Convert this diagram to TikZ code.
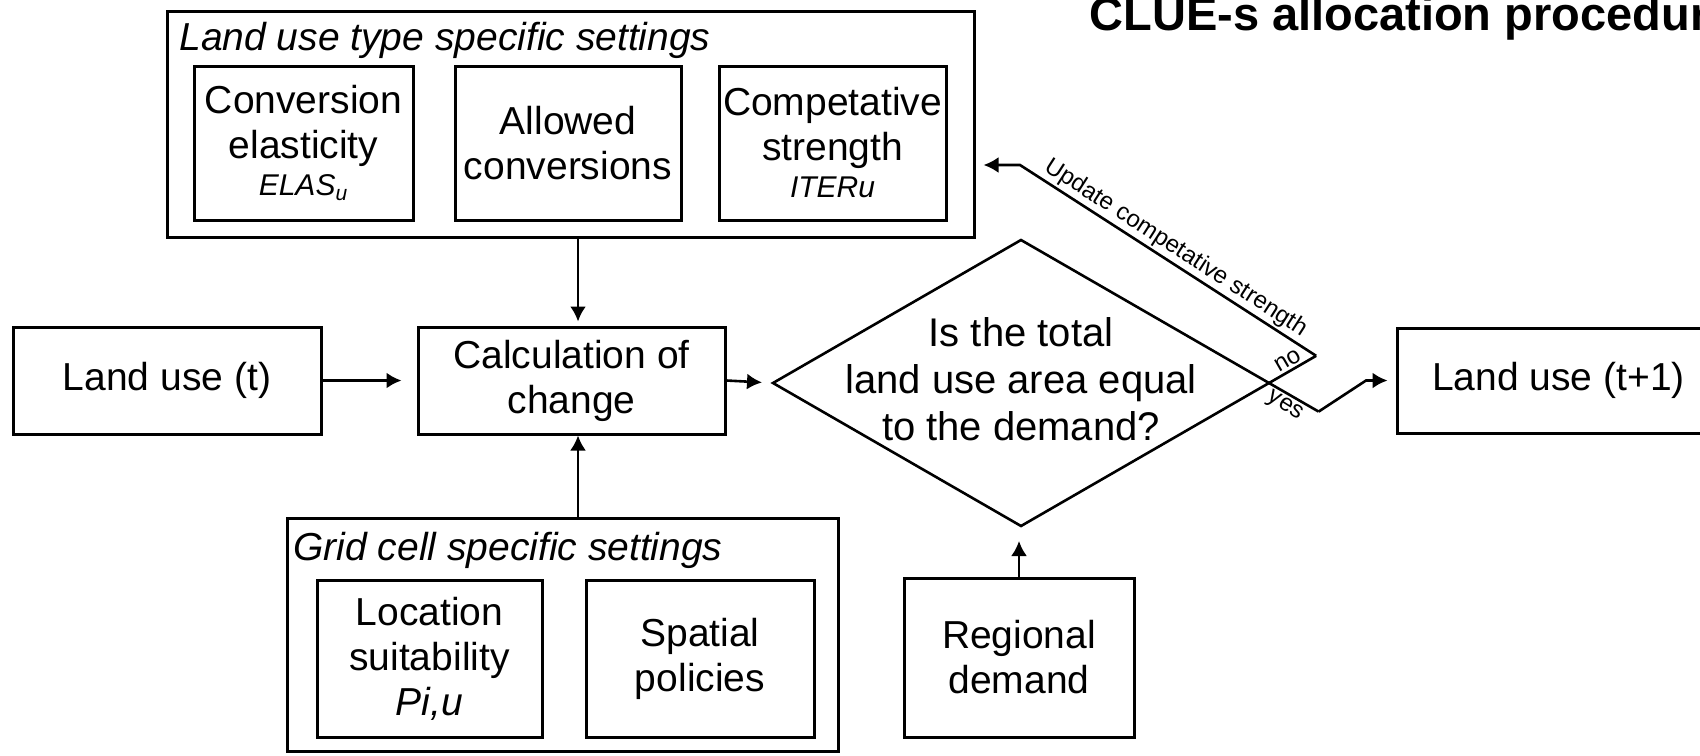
\documentclass[tikz,border=0pt]{standalone}
\usepackage{fontspec}
\setmainfont{Liberation Sans}
\usetikzlibrary{arrows.meta,calc,shapes.geometric}
\newcommand\mainfs{\fontsize{19.5}{22.5}\selectfont}
\newcommand\smallit{\fontsize{15}{17}\selectfont\itshape}
\begin{document}
\begin{tikzpicture}[x=0.5pt,y=-0.5pt,
  box/.style={draw, line width=1.5pt, inner sep=0pt, align=center, font=\mainfs},
  arr/.style={line width=1.3pt, -{Latex[length=7.5pt,width=8pt]}},
  ttl/.style={anchor=base west, inner sep=0pt, font=\mainfs\itshape},
  lbl/.style={font=\fontsize{12}{14}\selectfont, inner sep=1.5pt},
  dline/.style={line width=1.3pt}
]
\useasboundingbox (0,0) rectangle (1700,755);
\clip (0,0) rectangle (1700,755);

% title
\node[anchor=base west, inner sep=0pt, font=\fontsize{23.5}{27}\selectfont\bfseries] (title) at (1089,31) {CLUE-s allocation procedure};

% land use type specific settings
\node[box, minimum width=403.5pt, minimum height=113pt] (lts) at (570.5,124) {};
\node[ttl] (ltstitle) at (179,50) {Land use type specific settings};
\node[box, minimum width=109.5pt, minimum height=77pt] (conv) at (303.5,143) {Conversion\\elasticity\\[-4pt]{\smallit ELAS\textsubscript{u}}};
\node[box, minimum width=113pt, minimum height=77pt] (allow) at (568,143) {Allowed\\conversions};
\node[box, minimum width=113.5pt, minimum height=77pt] (comp) at (832.5,143) {Competative\\strength\\[-4pt]{\smallit ITERu}};

% middle row
\node[box, minimum width=154pt, minimum height=53.5pt] (lut) at (167,380.5) {Land use (t)};
\node[box, minimum width=153.5pt, minimum height=53.5pt] (calc) at (571.5,380.5) {Calculation of\\change};
\node[draw, dline, diamond, minimum width=248pt, minimum height=143pt, inner sep=0pt, outer sep=0pt] (dia) at (1021,383) {};
\node[align=center, font=\fontsize{20}{23.5}\selectfont] (q) at (1021,379) {Is the total\\land use area equal\\to the demand?};
\node[box, minimum width=161.5pt, minimum height=52.5pt] (lut1) at (1558.5,380.5) {Land use (t+1)};

% grid cell specific settings
\node[box, minimum width=275.5pt, minimum height=116.5pt] (grid) at (562.5,634.5) {};
\node[ttl] (gridtitle) at (293,560) {Grid cell specific settings};
\node[box, minimum width=112.5pt, minimum height=78.5pt] (loc) at (429.5,658.5) {Location\\suitability\\{\itshape Pi,u}};
\node[box, minimum width=114pt, minimum height=78.5pt] (spat) at (700,658.5) {Spatial\\policies};

% regional demand
\node[box, minimum width=115pt, minimum height=79.5pt] (reg) at (1019,657.5) {Regional\\demand};

% connectors
\coordinate (ax) at (578,0);
\draw[arr, shorten >=2pt] (lts.south -| ax) -- (calc.north -| ax);
\draw[arr] (grid.north -| ax) -- (calc.south -| ax);
\draw[arr, shorten >=7.5pt] (lut.east) -- (calc.west);
\draw[arr, shorten >=5.5pt] (calc.east) -- (dia.west);
\draw[arr, shorten >=7.5pt] (reg.north) -- (reg.north |- dia.south);

\coordinate (nocorner) at ($(dia.east)!-0.19!(dia.south)$);
\coordinate (yescorner) at ($(dia.east)!-0.2!(dia.north)$);
\coordinate (upd) at (1020,165);
\coordinate (yesbend) at (1366,380.5);
\draw[dline] (dia.east) -- (nocorner);
\draw[dline] (dia.east) -- (yescorner);
\draw[arr, shorten >=4pt] (nocorner) -- (upd) -- (upd -| lts.east);
\draw[arr, shorten >=4pt] (yescorner) -- (yesbend) -- (lut1.west);

\node[lbl, rotate=-32.8, anchor=south] (updlbl) at ($(nocorner)!0.5!(upd)$) {Update competative strength};
\node[lbl, rotate=30, anchor=south] (nolbl) at ($(dia.east)!0.5!(nocorner)$) {no};
\node[lbl, rotate=-32, anchor=north] (yeslbl) at ($(dia.east)!0.45!(yescorner)$) {yes};
\end{tikzpicture}
\end{document}
